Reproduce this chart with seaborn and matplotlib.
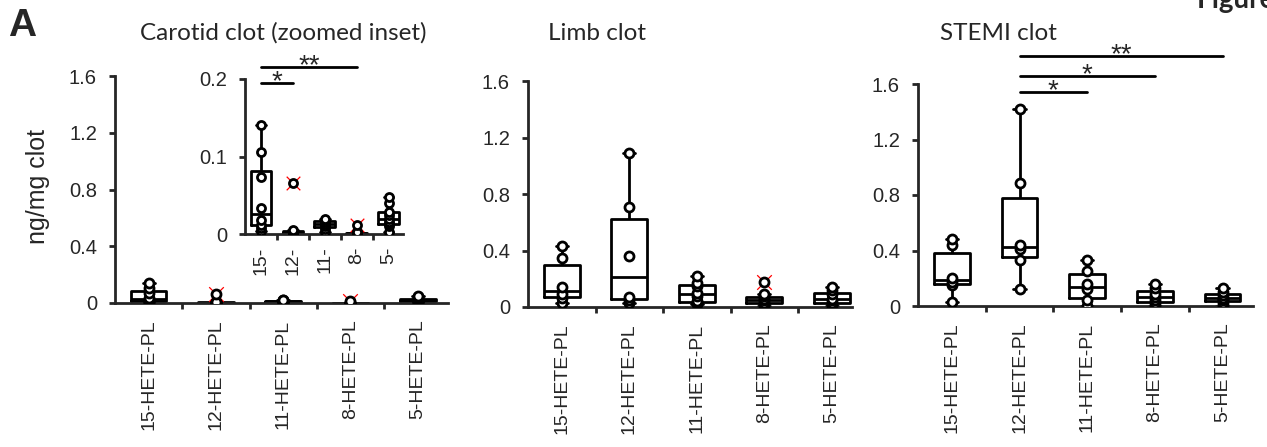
import numpy as np
import pandas as pd
import matplotlib.pyplot as plt
import seaborn as sns

# categories and tick labels
cats = ["15-HETE-PL", "12-HETE-PL", "11-HETE-PL", "8-HETE-PL", "5-HETE-PL"]
inset_labels = ["15-", "12-", "11-", "8-", "5-"]
yticks_main = [0, 0.4, 0.8, 1.2, 1.6]
ytick_labels_main = ["0", "0.4", "0.8", "1.2", "1.6"]
yticks_inset = [0, 0.1, 0.2]
ytick_labels_inset = ["0", "0.1", "0.2"]

# Carotid clot (ng/mg clot)
carotid_15 = [0.004, 0.008, 0.012, 0.018, 0.034, 0.073, 0.106, 0.140]
carotid_12 = [0.0, 0.001, 0.002, 0.003, 0.004, 0.005]
carotid_11 = [0.002, 0.007, 0.010, 0.013, 0.015, 0.018, 0.019]
carotid_8 = [0.0, 0.0005, 0.001, 0.0015, 0.002, 0.003]
carotid_5 = [0.002, 0.010, 0.013, 0.016, 0.020, 0.024, 0.028, 0.040, 0.048]
carotid_out_cat = ["12-HETE-PL", "8-HETE-PL"]
carotid_out_val = [0.066, 0.012]

# Limb clot
limb_15 = [0.03, 0.065, 0.09, 0.14, 0.35, 0.43]
limb_12 = [0.03, 0.05, 0.07, 0.36, 0.71, 1.09]
limb_11 = [0.02, 0.035, 0.04, 0.08, 0.10, 0.15, 0.17, 0.22]
limb_8 = [0.005, 0.02, 0.03, 0.05, 0.055, 0.08, 0.09]
limb_5 = [0.01, 0.02, 0.03, 0.05, 0.06, 0.09, 0.12, 0.145]
limb_out_cat = ["8-HETE-PL"]
limb_out_val = [0.18]

# STEMI clot
stemi_15 = [0.03, 0.15, 0.17, 0.20, 0.44, 0.48]
stemi_12 = [0.12, 0.335, 0.41, 0.44, 0.89, 1.42]
stemi_11 = [0.0, 0.04, 0.12, 0.16, 0.255, 0.33]
stemi_8 = [0.0, 0.02, 0.04, 0.065, 0.09, 0.13, 0.16]
stemi_5 = [0.0, 0.02, 0.04, 0.05, 0.06, 0.08, 0.10, 0.13]

# significance brackets (from, to, height, label)
carotid_sig = [(0, 1, 0.195, "*"), (0, 3, 0.215, "**")]
stemi_sig = [(1, 2, 1.54, "*"), (1, 3, 1.66, "*"), (1, 4, 1.80, "**")]


def long_df(groups):
    rows = []
    for c, vals in zip(cats, groups):
        for v in vals:
            rows.append((c, v))
    return pd.DataFrame(rows, columns=["lipid", "val"])


carotid = long_df([carotid_15, carotid_12, carotid_11, carotid_8, carotid_5])
limb = long_df([limb_15, limb_12, limb_11, limb_8, limb_5])
stemi = long_df([stemi_15, stemi_12, stemi_11, stemi_8, stemi_5])
carotid_out = pd.DataFrame({"lipid": carotid_out_cat, "val": carotid_out_val})
limb_out = pd.DataFrame({"lipid": limb_out_cat, "val": limb_out_val})

sns.set_style("ticks")
plt.rcParams["font.family"] = ["Liberation Sans", "DejaVu Sans"]

fig = plt.figure(figsize=(12.67, 4.47), dpi=100)

LW = 2.0


def draw(ax, df, out, width, msize, cap):
    sns.boxplot(data=df, x="lipid", y="val", order=cats, whis=(0, 100),
                width=width, showfliers=False, fill=False, color="black",
                linewidth=LW, capwidths=cap, ax=ax)
    if out is not None:
        sns.stripplot(data=out, x="lipid", y="val", order=cats, marker="x",
                      color="red", size=msize + 4, linewidth=0.9,
                      jitter=False, ax=ax, zorder=3)
        allpts = pd.concat([df, out])
    else:
        allpts = df
    sns.stripplot(data=allpts, x="lipid", y="val", order=cats, jitter=False,
                  color="white", edgecolor="black", linewidth=2.0,
                  size=msize, ax=ax, zorder=4)
    sns.despine(ax=ax)
    for s in ["left", "bottom"]:
        ax.spines[s].set_linewidth(LW)
    ax.set_xlabel("")
    ax.set_ylabel("")
    ax.set_facecolor("none")
    ax.tick_params(axis="x", which="major", length=0)
    ax.set_xticks([0.5, 1.5, 2.5, 3.5], minor=True)
    ax.tick_params(axis="x", which="minor", length=4, width=LW, direction="out")
    ax.tick_params(axis="y", length=4, width=LW, direction="out", pad=9,
                   labelsize=14.5)


def main_axis(ax, right):
    ax.set_ylim(0, 1.6)
    ax.set_xlim(-0.5, right)
    ax.set_yticks(yticks_main)
    ax.set_yticklabels(ytick_labels_main)
    ax.set_xticks(range(len(cats)))
    ax.set_xticklabels(cats, rotation=90, fontsize=14)
    ax.tick_params(axis="x", which="major", pad=12)


def brackets(ax, sig, off):
    for a, b, h, lab in sig:
        ax.plot([a, b], [h, h], color="black", lw=LW, clip_on=False)
        ax.text((a + b) / 2, h + off, lab, ha="center", va="baseline",
                fontsize=20, clip_on=False)


W, H = 1267, 447


def px_axes(left, right, y0, ytop):
    return fig.add_axes([left / W, 1 - y0 / H, (right - left) / W, (y0 - ytop) / H])


# Carotid main panel
ax1 = px_axes(115, 448, 303, 76)
draw(ax1, carotid, carotid_out, 0.53, 6.5, 0.18)
main_axis(ax1, 4.45)

# Carotid zoomed inset
axi = px_axes(245, 403, 234, 79)
draw(axi, carotid, carotid_out, 0.65, 5.8, 0.3)
axi.set_ylim(0, 0.2)
axi.set_xlim(-0.5, 4.45)
axi.set_yticks(yticks_inset)
axi.set_yticklabels(ytick_labels_inset)
axi.set_xticks(range(len(cats)))
axi.set_xticklabels(inset_labels, rotation=90, fontsize=14)
axi.tick_params(axis="x", which="major", pad=9)
brackets(axi, carotid_sig, -0.008)

# Limb panel
ax2 = px_axes(528, 852, 307, 81)
draw(ax2, limb, limb_out, 0.53, 6.5, 0.18)
main_axis(ax2, 4.3)

# STEMI panel
ax3 = px_axes(918, 1253, 306, 84)
draw(ax3, stemi, None, 0.53, 6.5, 0.18)
main_axis(ax3, 4.45)
brackets(ax3, stemi_sig, -0.045)

# titles and labels
title_font = ["Lato", "DejaVu Sans"]
fig.text(140 / W, 1 - 33 / H, "Carotid clot (zoomed inset)", fontsize=17.5,
         family=title_font, ha="left", va="center")
fig.text(548 / W, 1 - 33 / H, "Limb clot", fontsize=17.5, family=title_font,
         ha="left", va="center")
fig.text(940 / W, 1 - 33 / H, "STEMI clot", fontsize=17.5, family=title_font,
         ha="left", va="center")
fig.text(38 / W, 1 - 186 / H, "ng/mg clot", fontsize=18, rotation=90,
         ha="center", va="center")
fig.text(8 / W, 1 - 26 / H, "A", fontsize=28, fontweight="bold",
         ha="left", va="center")
fig.text(1197 / W, 1 - 8 / H, "Figure", fontsize=20, fontweight="bold",
         family=title_font, ha="left", va="baseline")

fig.savefig("out.png", dpi=100)
